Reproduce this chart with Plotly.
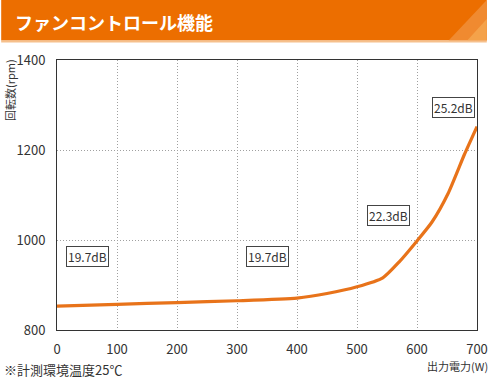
import plotly.graph_objects as go

# Data
power_w = [0, 100, 200, 300, 400, 450, 500, 543, 570, 600, 625, 652, 679, 700]
fan_rpm = [853, 857, 861, 865, 871, 881, 896, 916, 951, 998, 1040, 1104, 1190, 1252]

x_ticks = [0, 100, 200, 300, 400, 500, 600, 700]
y_ticks = [800, 1000, 1200, 1400]

noise_labels = ["19.7dB", "19.7dB", "22.3dB", "25.2dB"]
noise_x = [51, 350, 553, 660]
noise_y = [964, 964, 1055, 1295]

title_text = "ファンコントロール機能"
y_title = "回転数(rpm)"
x_title = "出力電力(W)"
note_text = "※計測環境温度25℃"

W, H = 500, 378
L, R, T, B = 57, 14, 60, 48
pw, ph = W - L - R, H - T - B


def px(x):
    return (x - L) / pw


def py(y):
    return (H - B - y) / ph


FONT = "Noto Sans CJK JP, Liberation Sans, sans-serif"
TXT = "#333333"

fig = go.Figure()
fig.add_trace(go.Scatter(
    x=power_w, y=fan_rpm, mode="lines",
    line=dict(color="#E8731A", width=3.2, shape="spline", smoothing=0.6),
    hoverinfo="skip", showlegend=False,
))

shapes = [
    # banner
    dict(type="rect", xref="paper", yref="paper", x0=px(0), x1=px(496), y0=py(40.5), y1=py(0),
         fillcolor="#EC6E00", line=dict(width=0), layer="below"),
    dict(type="path", xref="paper", yref="paper",
         path=f"M {px(457)} {py(40.5)} L {px(496)} {py(0)} L {px(496)} {py(40.5)} Z",
         fillcolor="#F08A30", line=dict(width=0), layer="below"),
    dict(type="path", xref="paper", yref="paper",
         path=f"M {px(476)} {py(40.5)} L {px(496)} {py(19)} L {px(496)} {py(40.5)} Z",
         fillcolor="#F4A24A", line=dict(width=0), layer="below"),
    dict(type="rect", xref="paper", yref="paper", x0=px(0), x1=px(496), y0=py(42.5), y1=py(40.5),
         fillcolor="#F6C08C", line=dict(width=0), layer="below"),
]

annotations = [
    dict(text=title_text, xref="paper", yref="paper", x=px(12), y=py(22), xanchor="left", yanchor="middle",
         showarrow=False, font=dict(family=FONT, size=18, color="white", weight="bold")),
    dict(text=y_title, xref="paper", yref="paper", x=px(9), y=py(90), xanchor="center", yanchor="middle",
         textangle=-90, showarrow=False, font=dict(family=FONT, size=11, color=TXT)),
    dict(text=x_title, xref="paper", yref="paper", x=px(499), y=py(366), xanchor="right", yanchor="middle",
         showarrow=False, font=dict(family=FONT, size=11, color=TXT)),
    dict(text=note_text, xref="paper", yref="paper", x=px(1), y=py(369), xanchor="left", yanchor="middle",
         showarrow=False, font=dict(family=FONT, size=13, color=TXT)),
]
for t, xv, yv in zip(noise_labels, noise_x, noise_y):
    annotations.append(dict(
        text=t, x=xv, y=yv, xref="x", yref="y", showarrow=False,
        font=dict(family=FONT, size=12, color=TXT),
        bgcolor="white", bordercolor="#444444", borderwidth=1, borderpad=1,
    ))

fig.update_layout(
    width=W, height=H,
    margin=dict(l=L, r=R, t=T, b=B),
    paper_bgcolor="white", plot_bgcolor="white",
    shapes=shapes, annotations=annotations,
    font=dict(family=FONT, color=TXT),
)
fig.update_xaxes(
    range=[0, 700], tickvals=x_ticks, ticktext=[str(v) for v in x_ticks],
    showgrid=True, gridcolor="#a0a0a0", griddash="1px,2px", gridwidth=1,
    showline=True, linecolor="#333333", linewidth=1, mirror=True,
    ticks="", ticklabelstandoff=7, tickfont=dict(size=13, color=TXT), zeroline=False,
)
fig.update_yaxes(
    range=[800, 1400], tickvals=y_ticks, ticktext=[str(v) for v in y_ticks],
    showgrid=True, gridcolor="#a0a0a0", griddash="1px,2px", gridwidth=1,
    showline=True, linecolor="#333333", linewidth=1, mirror=True,
    ticks="", ticklabelstandoff=8, tickfont=dict(size=13, color=TXT), zeroline=False,
)

fig.write_html(
    "out.html",
    config={"displayModeBar": False},
    post_script="document.body.style.margin='0';document.body.style.overflow='hidden';",
)
